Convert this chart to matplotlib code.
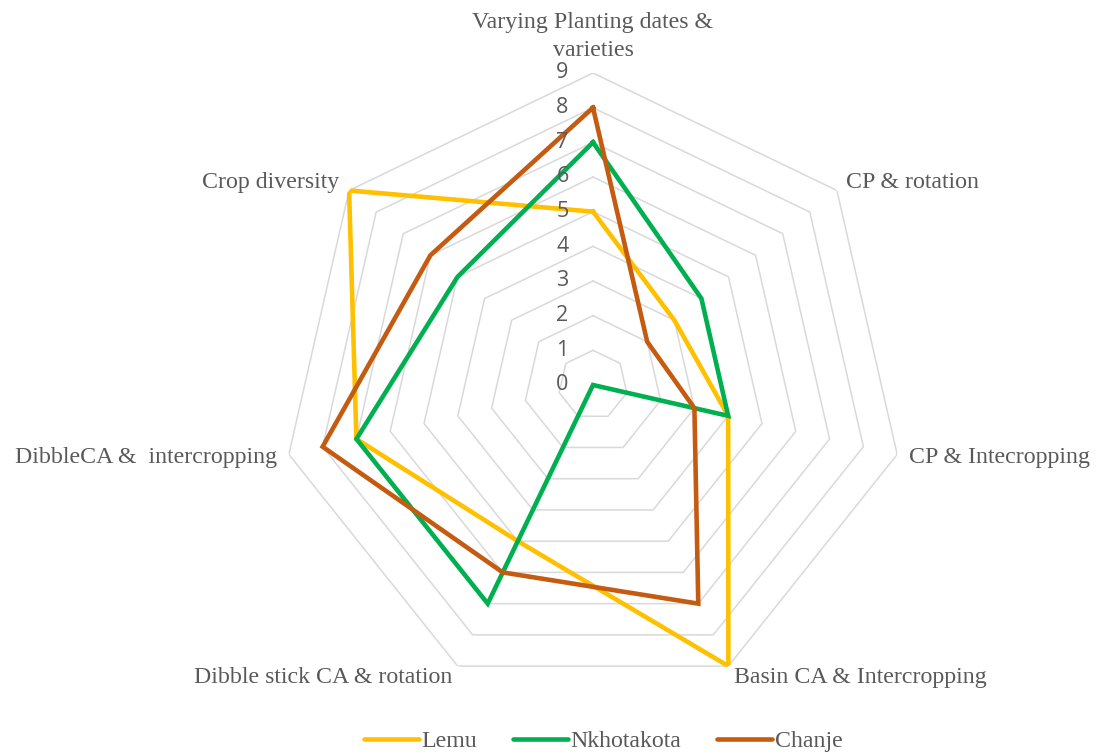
import numpy as np
import matplotlib
matplotlib.use("Agg")
import matplotlib.pyplot as plt
from matplotlib.lines import Line2D

# ── data ─────────────────────────────────────────
categories = [
    "Varying Planting dates &\nvarieties",
    "CP & rotation",
    "CP & Intecropping",
    "Basin CA & Intercropping",
    "Dibble stick CA & rotation",
    "DibbleCA &  intercropping",
    "Crop diversity",
]
lemu       = [5, 3, 4, 9, 5, 7, 9]
nkhotakota = [7, 4, 4, 0, 7, 7, 5]
chanje     = [8, 2, 3, 7, 6, 8, 6]
levels     = [0, 1, 2, 3, 4, 5, 6, 7, 8, 9]

series = [("Lemu", lemu, "#FFC000"),
          ("Nkhotakota", nkhotakota, "#00B050"),
          ("Chanje", chanje, "#C55A11")]

TXT = "#595959"
SERIF = ["Liberation Serif", "DejaVu Serif"]

n = len(categories)
theta = np.arange(n) * 2 * np.pi / n
theta_c = np.append(theta, theta[0])

fig = plt.figure(figsize=(11.07, 7.55), dpi=100)
cx, cy = 593 / 1107, 1 - 385 / 755
rw, rh = 312 / 1107, 312 / 755
ax = fig.add_axes([cx - rw, cy - rh, 2 * rw, 2 * rh], projection="polar")
ax.set_theta_zero_location("N")
ax.set_theta_direction(-1)
ax.set_ylim(0, 9)
ax.grid(False)
ax.spines["polar"].set_visible(False)
ax.set_xticks([])
ax.set_yticks([])
ax.patch.set_alpha(0)

# heptagon grid
for lv in levels[1:]:
    ax.plot(theta_c, [lv] * (n + 1), color="#D9D9D9", lw=1.1, zorder=1)

# series
for name, vals, col in series:
    ax.plot(theta_c, vals + vals[:1], color=col, lw=3.3, zorder=3,
            solid_joinstyle="miter")

# value labels along the top axis
for lv in levels:
    ax.annotate(str(lv), xy=(0, lv), xytext=(-22, 0), textcoords="offset points",
                ha="center", va="center", fontsize=15.5, color=TXT,
                family=["Open Sans", "DejaVu Sans"], zorder=4)

# category labels
for i, lab in enumerate(categories):
    t = theta[i]
    s = np.sin(t)
    if abs(s) < 0.1:
        ha, va = "center", "bottom"
    elif s > 0:
        ha, va = "left", "center"
    else:
        ha, va = "right", "center"
    ax.text(t, 9.35, lab, ha=ha, va=va, fontsize=17.2, color=TXT,
            family=SERIF, linespacing=1.4)

handles = [Line2D([], [], color=c, lw=3.3, solid_capstyle="round") for _, _, c in series]
fig.legend(handles, [s[0] for s in series], loc="lower center",
           bbox_to_anchor=(0.545, -0.025), ncol=3, frameon=False,
           prop={"family": SERIF, "size": 17.2}, labelcolor=TXT,
           handlelength=2.3, handletextpad=0.1, columnspacing=1.5)

fig.savefig("out.png", dpi=100)
